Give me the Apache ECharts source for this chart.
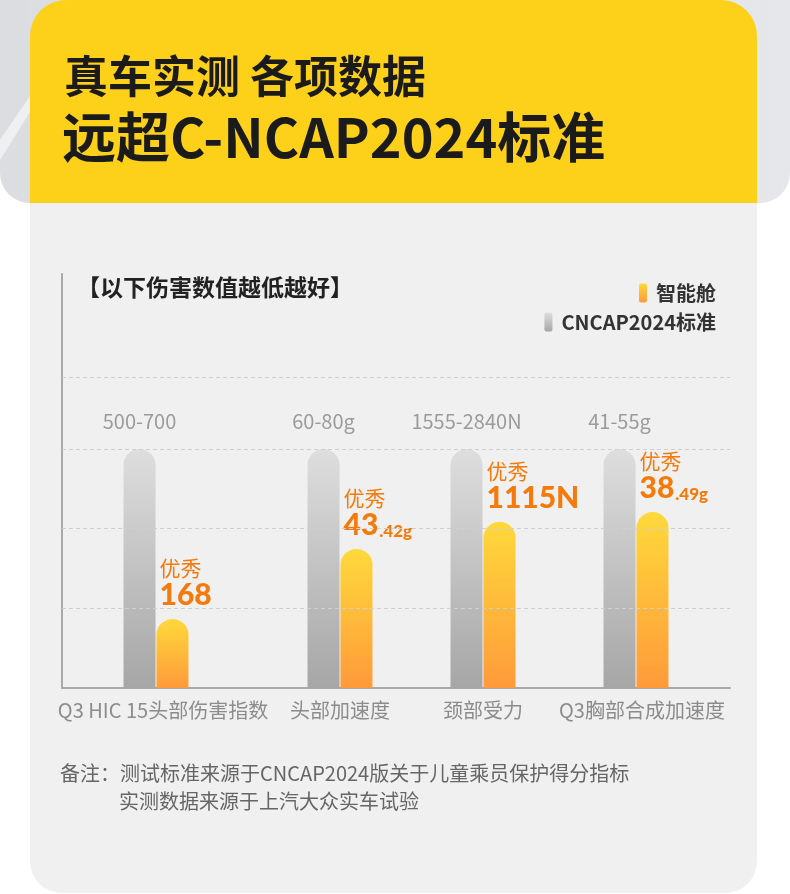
<!DOCTYPE html>
<html>
<head>
<meta charset="utf-8">
<script src="https://cdn.jsdelivr.net/npm/echarts@6/dist/echarts.min.js"></script>
<style>
  html, body { margin: 0; padding: 0; background: #ffffff; }
  #main { width: 790px; height: 894px; }
</style>
</head>
<body>
<div id="main"></div>
<script>
// 数据
var categories = ['Q3 HIC 15头部伤害指数', '头部加速度', '颈部受力', 'Q3胸部合成加速度']
var standardRanges = ['500-700', '60-80g', '1555-2840N', '41-55g']
var standardPct = [100, 100, 100, 100]          // CNCAP2024 上限，归一为 100
var measuredLabels = ['168', '43.42g', '1115N', '38.49g']
var measuredPct = [28.9, 58.2, 69.5, 73.6]      // 智能舱实测（相对标准上限的柱高）
var gridLineValues = [33.3, 66.7, 100, 130]
var noteLines = ['备注：测试标准来源于CNCAP2024版关于儿童乘员保护得分指标', '实测数据来源于上汽大众实车试验']

var FONT = '"Noto Sans CJK SC", "Noto Sans", sans-serif'
var NUM_FONT = 'Lato, "Noto Sans CJK SC", sans-serif'
var ORANGE = '#F47A0B'
var Y_MAX = 173.2
var pairCenters = [156, 340, 483, 636]

var grayGrad = new echarts.graphic.LinearGradient(0, 0, 0, 1, [
  {offset: 0, color: '#dedede'},
  {offset: 1, color: '#a6a6a6'}
])
var orangeGrad = new echarts.graphic.LinearGradient(0, 0, 0, 1, [
  {offset: 0, color: '#FFD93B'},
  {offset: 1, color: '#FF9A3A'}
])

function measuredText (s) {
  var m = s.match(/^(\d+)(\..*)$/)
  if (m) {
    return '{a|优秀}\n{b|' + m[1] + '}{c|' + m[2] + '}'
  }
  return '{a|优秀}\n{b|' + s + '}'
}

var myChart = echarts.init(document.getElementById('main'))

var grids = [{left: 62, top: 274, width: 668, height: 414}]
var xAxes = [{
  gridIndex: 0, type: 'value', min: 0, max: 1,
  axisLine: {show: true, lineStyle: {color: '#a9a9a9', width: 2}},
  axisTick: {show: false}, axisLabel: {show: false}, splitLine: {show: false}
}]
var yAxes = [{
  gridIndex: 0, type: 'value', min: 0, max: Y_MAX,
  axisLine: {show: true, lineStyle: {color: '#a9a9a9', width: 2}},
  axisTick: {show: false}, axisLabel: {show: false}, splitLine: {show: false}
}]
var series = [{
  type: 'line',
  xAxisIndex: 0,
  yAxisIndex: 0,
  data: [],
  silent: true,
  markLine: {
    silent: true,
    symbol: 'none',
    label: {show: false},
    lineStyle: {type: [4, 3], color: '#cfcfcf', width: 1},
    data: gridLineValues.map(function (v) { return {yAxis: v} })
  }
}]

categories.forEach(function (name, i) {
  var gi = i + 1
  grids.push({left: pairCenters[i] - 50, top: 274, width: 100, height: 414})
  xAxes.push({
    gridIndex: gi,
    type: 'category',
    data: [name],
    axisLine: {show: false},
    axisTick: {show: false},
    axisLabel: {
      interval: 0,
      margin: 12,
      color: '#8c8c8c',
      fontSize: 20,
      fontFamily: FONT,
      padding: i === 0 ? [0, 0, 0, 14] : (i === 3 ? [0, 0, 0, 12] : 0)
    }
  })
  yAxes.push({gridIndex: gi, type: 'value', min: 0, max: Y_MAX, show: false})
  series.push({
    name: 'CNCAP2024标准',
    type: 'bar',
    xAxisIndex: gi,
    yAxisIndex: gi,
    barWidth: 32,
    barGap: '3%',
    itemStyle: {color: grayGrad, borderRadius: [16, 16, 0, 0]},
    label: {
      show: true,
      position: 'top',
      distance: 18,
      formatter: standardRanges[i],
      color: '#9b9b9b',
      fontSize: 20,
      fontFamily: FONT
    },
    data: [standardPct[i]]
  })
  series.push({
    name: '智能舱',
    type: 'bar',
    xAxisIndex: gi,
    yAxisIndex: gi,
    barWidth: 32,
    barGap: '3%',
    itemStyle: {color: orangeGrad, borderRadius: [16, 16, 0, 0]},
    label: {
      show: true,
      position: [3, -9],
      align: 'left',
      verticalAlign: 'bottom',
      formatter: measuredText(measuredLabels[i]),
      color: ORANGE,
      fontFamily: FONT,
      rich: {
        a: {fontSize: 21, lineHeight: 24, color: ORANGE, fontFamily: FONT},
        b: {fontSize: 30, lineHeight: 30, fontWeight: 900, color: ORANGE, fontFamily: NUM_FONT},
        c: {fontSize: 17, lineHeight: 30, fontWeight: 900, color: ORANGE, fontFamily: NUM_FONT, verticalAlign: 'bottom', padding: [0, 0, 0, 1]}
      }
    },
    data: [measuredPct[i]]
  })
})

var legendText = {fontSize: 20, color: '#333333', fontWeight: 'bold', fontFamily: FONT, padding: [0, 0, 0, 4]}

var option = {
  animation: false,
  backgroundColor: '#ffffff',
  textStyle: {fontFamily: FONT},
  graphic: [
    {
      type: 'rect', z: -10,
      shape: {x: 0, y: -40, width: 790, height: 243, r: [0, 0, 30, 30]},
      style: {
        fill: new echarts.graphic.LinearGradient(0, 0, 1, 0, [
          {offset: 0, color: '#dcdde0'},
          {offset: 1, color: '#e6e7ea'}
        ])
      }
    },
    {
      type: 'polygon', z: -9,
      shape: {points: [[0, 140], [30, 96], [30, 112], [0, 160]]},
      style: {fill: 'rgba(255,255,255,0.55)'}
    },
    {
      type: 'rect', z: -8,
      shape: {x: 30, y: 0, width: 727, height: 204, r: [36, 36, 0, 0]},
      style: {fill: '#FDD01A'}
    },
    {
      type: 'rect', z: -8,
      shape: {x: 30, y: 203, width: 727, height: 690, r: [0, 0, 32, 32]},
      style: {fill: '#f0f0f0'}
    },
    {
      type: 'text', left: 64, top: 54,
      style: {text: '真车实测 各项数据', fill: '#1b1b1b', font: 'bold 44px ' + FONT}
    },
    {
      type: 'text', left: 62, top: 110,
      style: {text: '远超C-NCAP2024标准', fill: '#1b1b1b', font: 'bold 54px ' + FONT}
    },
    {
      type: 'text', left: 77, top: 276,
      style: {text: '【以下伤害数值越低越好】', fill: '#222222', font: 'bold 23px ' + FONT}
    },
    {
      type: 'text', left: 60, top: 763,
      style: {text: noteLines[0], fill: '#666666', font: '20px ' + FONT}
    },
    {
      type: 'text', left: 119, top: 791,
      style: {text: noteLines[1], fill: '#666666', font: '20px ' + FONT}
    }
  ],
  legend: [
    {
      data: ['智能舱'],
      right: 69,
      top: 278,
      icon: 'roundRect',
      itemWidth: 8,
      itemHeight: 19,
      selectedMode: false,
      textStyle: legendText
    },
    {
      data: ['CNCAP2024标准'],
      right: 69,
      top: 307,
      icon: 'roundRect',
      itemWidth: 8,
      itemHeight: 19,
      selectedMode: false,
      textStyle: legendText
    }
  ],
  grid: grids,
  xAxis: xAxes,
  yAxis: yAxes,
  series: series
}

option && myChart.setOption(option)
window.addEventListener('resize', function () {
  myChart.resize()
})
</script>
</body>
</html>
